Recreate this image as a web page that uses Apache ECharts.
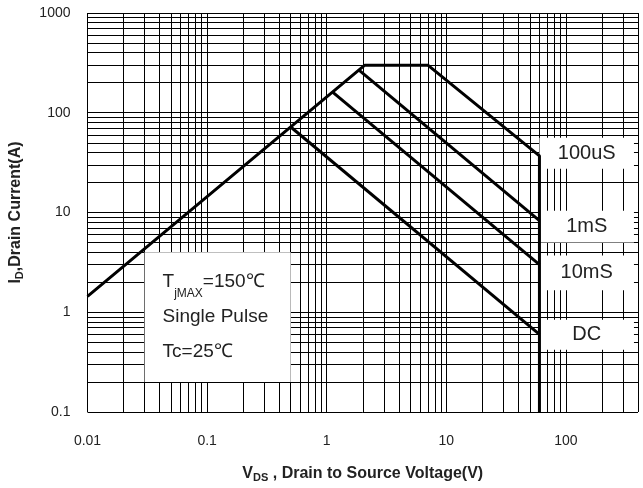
<!DOCTYPE html>
<html><head><meta charset="utf-8">
<script src="https://cdn.jsdelivr.net/npm/echarts@6/dist/echarts.min.js"></script>
<style>html,body{margin:0;padding:0;background:#fff}#c{width:643px;height:488px}</style>
</head><body><div id="c"></div>
<script>
// ---- data ----
const xTickLabels = ['0.01', '0.1', '1', '10', '100'];
const yTickLabels = ['0.1', '1', '10', '100', '1000'];
const xRange = [0.01, 400];
const yRange = [0.1, 1000];
const gridMultipliers = [1, 2, 3, 4, 5, 6, 7, 8, 9];
const xDecades = [0.01, 0.1, 1, 10, 100];
const yDecades = [0.1, 1, 10, 100, 1000];

// SOA boundary lines [VDS, ID]
const line100us = [[0.01, 1.44], [2.08, 300], [7.0, 300], [60, 37], [60, 0.1]];
const line1ms   = [[1.86, 268], [60, 8.3]];
const line10ms  = [[1.12, 161], [60, 3.0]];
const lineDC    = [[0.5, 72], [60, 0.6]];

const curveNames = ['100uS', '1mS', '10mS', 'DC'];
// label boxes in data coordinates: [x0, y0, x1, y1]
const curveBoxes = [[60, 56, 370, 27.5], [60, 10.4, 370, 5], [60, 3.7, 370, 1.66], [60, 0.84, 370, 0.42]];
const noteBox = [0.03, 4, 0.5, 0.2];

// ---- build ----
const FONT = '"Liberation Sans Narrow","Liberation Sans",Arial,sans-serif';
const xGrid = [], yGrid = [];
xDecades.forEach(d => gridMultipliers.forEach(m => { const v = +(d * m).toPrecision(6); if (v <= xRange[1]) xGrid.push(v); }));
yDecades.forEach(d => gridMultipliers.forEach(m => { const v = +(d * m).toPrecision(6); if (v <= yRange[1]) yGrid.push(v); }));

function tickFmt(labels) {
  return v => { for (const t of labels) { if (Math.abs(+t - v) / +t < 1e-6) return t; } return ''; };
}

const lineStyle = { color: '#000', width: 3 };
function dataSeries(name, data) {
  return { name, type: 'line', data, symbol: 'none', lineStyle, z: 10, silent: true, animation: false };
}

const option = {
  animation: false,
  grid: { left: 84, right: 5, top: 13, bottom: 72, containLabel: false },
  xAxis: {
    type: 'log', logBase: 10, min: xRange[0], max: xRange[1],
    axisLine: { show: false }, axisTick: { show: false }, splitLine: { show: false },
    axisLabel: { formatter: tickFmt(xTickLabels), fontFamily: FONT, fontSize: 14, color: '#222', margin: 22, showMaxLabel: false },
    name: '{b|V}{s|DS}{b| , Drain to Source Voltage(V)}', nameLocation: 'middle', nameGap: 52,
    nameTextStyle: { rich: {
      b: { fontFamily: FONT, fontWeight: 'bold', fontSize: 16, color: '#222' },
      s: { fontFamily: FONT, fontWeight: 'bold', fontSize: 11, color: '#222', verticalAlign: 'bottom', padding: [8, 0, 0, 0] } } }
  },
  yAxis: {
    type: 'log', logBase: 10, min: yRange[0], max: yRange[1],
    axisLine: { show: false }, axisTick: { show: false }, splitLine: { show: false },
    axisLabel: { formatter: tickFmt(yTickLabels), fontFamily: FONT, fontSize: 14, color: '#222', margin: 17 },
    name: '{b|I}{s|D}{b|,Drain Current(A)}', nameLocation: 'middle', nameGap: 62, nameRotate: 90,
    nameTextStyle: { rich: {
      b: { fontFamily: FONT, fontWeight: 'bold', fontSize: 16, color: '#222' },
      s: { fontFamily: FONT, fontWeight: 'bold', fontSize: 11, color: '#222', verticalAlign: 'bottom', padding: [8, 0, 0, 0] } } }
  },
  series: [
    { type: 'line', data: [], silent: true,
      markLine: { silent: true, z: 1, symbol: ['none', 'none'], animation: false,
        lineStyle: { color: '#000', width: 1, type: 'solid' }, label: { show: false },
        emphasis: { disabled: true },
        data: [...xGrid.map(v => ({ xAxis: v })), ...yGrid.map(v => ({ yAxis: v }))] } },
    { type: 'line', data: [], silent: true,
      markArea: { silent: true, z: 3, animation: false, itemStyle: { color: '#fff' },
        label: { show: true, position: 'inside', fontFamily: FONT, fontSize: 20, color: '#222' },
        emphasis: { disabled: true },
        data: [
          ...curveBoxes.map((b, i) => [{ coord: [b[0], b[1]], name: curveNames[i] }, { coord: [b[2], b[3]] }]),
          [{ coord: [noteBox[0], noteBox[1]], name: 'note',
             label: { position: 'insideLeft', distance: 18, align: 'left',
               formatter: '{t|T}{s|jMAX}{t|=150℃}\n{t|Single Pulse}\n{t|Tc=25℃}',
               rich: { t: { fontFamily: FONT, fontSize: 19, color: '#222', lineHeight: 35 },
                       s: { fontFamily: FONT, fontSize: 12, color: '#222', lineHeight: 35, verticalAlign: 'bottom', padding: [10, 0, 0, 0] } } } },
           { coord: [noteBox[2], noteBox[3]] }]
        ] } },
    dataSeries('100uS', line100us),
    dataSeries('1mS', line1ms),
    dataSeries('10mS', line10ms),
    dataSeries('DC', lineDC)
  ]
};
const chart = echarts.init(document.getElementById('c'), null, { renderer: 'canvas' });
chart.setOption(option);
</script></body></html>
